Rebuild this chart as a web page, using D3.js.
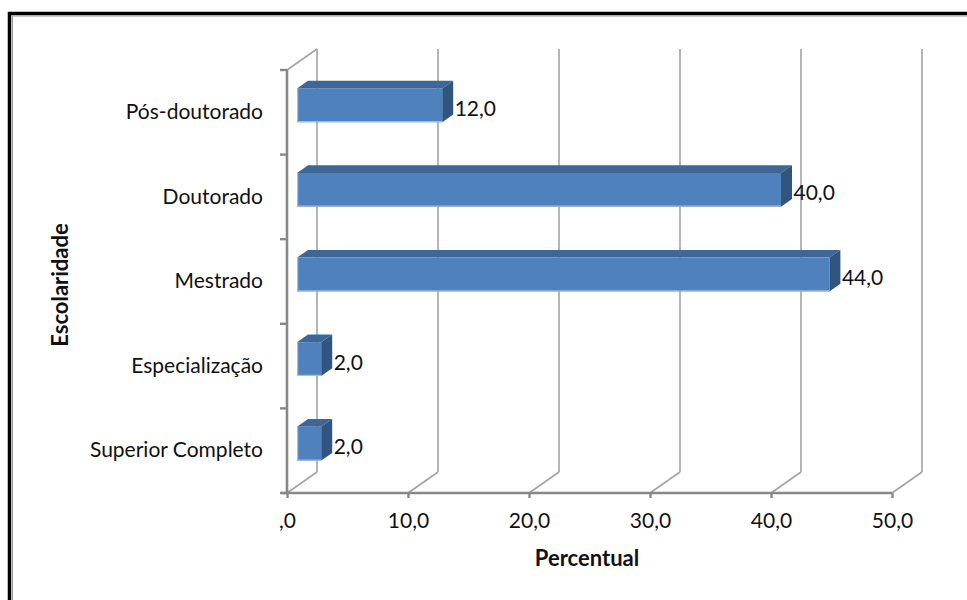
<!DOCTYPE html>
<html>
<head>
<meta charset="utf-8">
<script src="https://cdn.jsdelivr.net/npm/d3@7"></script>
<style>
  html, body { margin: 0; padding: 0; background: #fff; }
  svg { display: block; }
  text { font-family: Lato, "Open Sans", sans-serif; }
</style>
</head>
<body>
<svg id="chart" width="967" height="600"></svg>
<script>
// Escolaridade dos respondentes (%)
const categories = ["Pós-doutorado", "Doutorado", "Mestrado", "Especialização", "Superior Completo"];
const values = [12.0, 40.0, 44.0, 2.0, 2.0];
const tickValues = [0, 10, 20, 30, 40, 50];
const tickLabels = [",0", "10,0", "20,0", "30,0", "40,0", "50,0"];
const titleX = "Percentual";
const titleY = "Escolaridade";

const W = 967, H = 600;
const svg = d3.select("#chart");

// front plane of the 3-D box and its depth offset
const plot = { left: 287, right: 892, top: 70, bottom: 493 };
const depth = { dx: 30, dy: -21 };
const px = (xv, f) => xv + depth.dx * f;
const py = (yv, f) => yv + depth.dy * f;
const barFront = 1 / 3, barBack = 0.7;

const x = d3.scaleLinear().domain([0, 50]).range([plot.left, plot.right]);
const y = d3.scaleBand().domain(categories)
  .range([plot.top, plot.bottom]).paddingInner(0.6).paddingOuter(0.3);
const fmt = v => d3.format(".1f")(v).replace(".", ",");

// outer frame
svg.append("rect").attr("x", 9.5).attr("y", 13.5).attr("width", W + 10).attr("height", H + 10)
  .attr("fill", "none").attr("stroke", "#000").attr("stroke-width", 3.5);
svg.append("rect").attr("x", 12.5).attr("y", 16).attr("width", W + 10).attr("height", H + 10)
  .attr("fill", "none").attr("stroke", "#9a9a9a").attr("stroke-width", 1);

const grid = svg.append("g").attr("fill", "none").attr("stroke", "#a3a3a3").attr("stroke-width", 1.6);

// back-wall gridlines and floor diagonals
tickValues.forEach(t => {
  const xt = x(t);
  grid.append("line")
    .attr("x1", px(xt, 1)).attr("y1", py(plot.top, 1))
    .attr("x2", px(xt, 1)).attr("y2", py(plot.bottom, 1));
  grid.append("line")
    .attr("x1", xt).attr("y1", plot.bottom)
    .attr("x2", px(xt, 1)).attr("y2", py(plot.bottom, 1));
});
// side-wall top edge
grid.append("line")
  .attr("x1", x(0)).attr("y1", plot.top)
  .attr("x2", px(x(0), 1)).attr("y2", py(plot.top, 1));

// front axes
const axisG = svg.append("g").attr("stroke", "#888").attr("fill", "none");
axisG.append("line").attr("stroke-width", 2.6)
  .attr("x1", x(0)).attr("y1", plot.top).attr("x2", x(0)).attr("y2", plot.bottom + 1);
axisG.append("line").attr("stroke-width", 2.6)
  .attr("x1", x(0) - 6).attr("y1", plot.bottom).attr("x2", x(50)).attr("y2", plot.bottom);
// category boundary ticks
const step = y.step();
d3.range(categories.length + 1).forEach(i => {
  const yy = plot.top + i * step;
  axisG.append("line").attr("stroke-width", 2.4)
    .attr("x1", x(0) - 7).attr("y1", yy).attr("x2", x(0)).attr("y2", yy);
});

// x axis ticks + labels
const xAxis = d3.axisBottom(x)
  .tickValues(tickValues)
  .tickFormat((d, i) => tickLabels[i])
  .tickSizeInner(5).tickSizeOuter(0).tickPadding(15);
const gx = svg.append("g").attr("transform", `translate(0,${plot.bottom})`).call(xAxis);
gx.select(".domain").remove();
gx.selectAll(".tick line").attr("stroke", "#888").attr("stroke-width", 2.4);
gx.selectAll(".tick text").attr("fill", "#111").style("font-size", "21px")
  .style("font-family", "Lato, 'Open Sans', sans-serif");

// y axis category labels
const yAxis = d3.axisLeft(y).tickSize(0).tickPadding(24);
const gy = svg.append("g").attr("transform", `translate(${plot.left},0)`).call(yAxis);
gy.select(".domain").remove();
gy.selectAll(".tick text").attr("fill", "#111").style("font-size", "21px")
  .style("font-family", "Lato, 'Open Sans', sans-serif");

// 3-D bars
const bars = svg.append("g");
categories.forEach((c, i) => {
  const v = values[i];
  const x0 = x(0), xv = x(v);
  const yt = y(c), yb = y(c) + y.bandwidth();
  const g = bars.append("g");
  // top face
  g.append("polygon").attr("fill", "#3e6797")
    .attr("points", [
      [px(x0, barFront), py(yt, barFront)], [px(xv, barFront), py(yt, barFront)],
      [px(xv, barBack), py(yt, barBack)], [px(x0, barBack), py(yt, barBack)]
    ].join(" "));
  // right face
  g.append("polygon").attr("fill", "#31557f")
    .attr("points", [
      [px(xv, barFront), py(yt, barFront)], [px(xv, barBack), py(yt, barBack)],
      [px(xv, barBack), py(yb, barBack)], [px(xv, barFront), py(yb, barFront)]
    ].join(" "));
  // front face
  g.append("rect").attr("fill", "#4f81bd")
    .attr("x", px(x0, barFront)).attr("y", py(yt, barFront))
    .attr("width", xv - x0).attr("height", y.bandwidth());
  // soft highlight on left and bottom edges
  g.append("path").attr("fill", "none").attr("stroke", "#a4bce0").attr("stroke-width", 1.2)
    .attr("d", `M${px(x0, barFront) + 0.6},${py(yt, barFront)}V${py(yb, barFront) - 0.6}H${px(xv, barFront)}`);
  // value label
  svg.append("text")
    .attr("x", px(xv, barBack) + 1.5)
    .attr("y", py((yt + yb) / 2, barFront) + 2)
    .attr("dominant-baseline", "central")
    .attr("fill", "#111").style("font-size", "21px")
    .text(fmt(v));
});

// axis titles
svg.append("text").attr("x", 587).attr("y", 566).attr("text-anchor", "middle")
  .style("font-size", "22px").style("font-weight", "bold").attr("fill", "#111")
  .text(titleX);
svg.append("text").attr("transform", "translate(68,285) rotate(-90)").attr("text-anchor", "middle")
  .style("font-size", "22px").style("font-weight", "bold").attr("fill", "#111")
  .text(titleY);
</script>
</body>
</html>
